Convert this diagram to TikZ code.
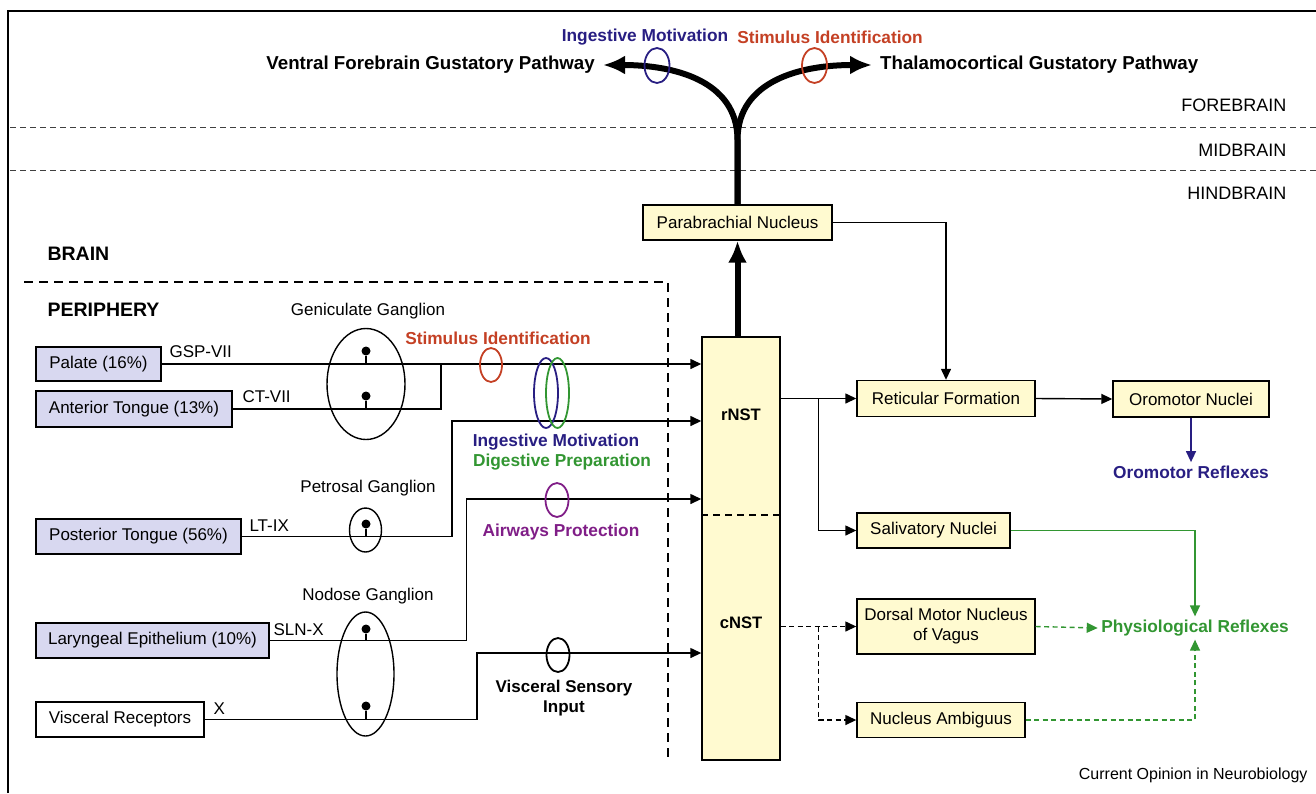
\documentclass[tikz,border=0pt]{standalone}
\usepackage{fontspec}
\setmainfont{Liberation Sans}
\usepackage{tikz}
\usetikzlibrary{arrows.meta,positioning,calc,shapes.geometric}
\definecolor{nucfill}{RGB}{255,250,208}
\definecolor{perifill}{RGB}{216,216,240}
\definecolor{imblue}{RGB}{40,30,130}
\definecolor{sired}{RGB}{196,64,36}
\definecolor{dpgreen}{RGB}{50,150,50}
\definecolor{appurple}{RGB}{128,30,135}

\begin{document}
\begin{tikzpicture}[x=1pt, y=-1pt,
  every node/.style={font=\fontsize{17}{20}\selectfont},
  box/.style={draw, line width=1.4pt, fill=nucfill, inner sep=0pt, minimum height=35pt, align=center},
  peri/.style={box, fill=perifill},
  lbl/.style={font=\bfseries\fontsize{17.3}{20}\selectfont, align=center},
  route/.style={font=\bfseries\fontsize{18.7}{22}\selectfont, inner xsep=8pt},
  region/.style={anchor=east, font=\fontsize{18}{20}\selectfont},
  ln/.style={line width=1.4pt},
  arr/.style={ln, -{Triangle[length=11pt,width=10pt]}},
  darr/.style={arr, dash pattern=on 5pt off 3.5pt},
  fat/.style={line width=6pt, -{Latex[length=22pt,width=19pt]}},
  ring/.style={ellipse, draw, line width=1.8pt, inner sep=0pt, minimum width=23pt, minimum height=34pt},
  gang/.style={ellipse, draw, line width=1.4pt, inner sep=0pt},
  cell/.style={circle, fill, inner sep=0pt, minimum size=9pt}]
\useasboundingbox (0,0) rectangle (1316,793);
\draw[line width=1.3pt] (8,793) -- (8,11) -- (1316,11);

\foreach \y in {127,170}
  \draw[line width=1pt, black!75, dash pattern=on 6pt off 4pt] (10,\y) -- (1316,\y);
\node[region] (fore) at (1290,105) {FOREBRAIN};
\node[region] (mid) at (1290,150) {MIDBRAIN};
\node[region] (hind) at (1290,193) {HINDBRAIN};

\draw[line width=2.2pt, dash pattern=on 9pt off 6pt] (24,282) -| (668,760);
\node[anchor=west, font=\bfseries\fontsize{19.5}{22}\selectfont] (brain) at (44,254) {BRAIN};
\node[anchor=west, font=\bfseries\fontsize{19.5}{22}\selectfont] (periph) at (44,310) {PERIPHERY};

% brainstem nuclei
\node[box, minimum width=189pt] (pb) at (737.5,222.5) {Parabrachial Nucleus};
\node[box, minimum width=78pt, minimum height=423pt] (nst) at (741,548.5) {};
\draw[line width=2pt, dash pattern=on 7pt off 5pt] (nst.west |- 0,515) -- (nst.east |- 0,515);
\node[font=\bfseries\fontsize{16.6}{20}\selectfont] (rnst) at (741,415) {rNST};
\node[font=\bfseries\fontsize{16.6}{20}\selectfont] (cnst) at (741,623) {cNST};
\node[box, minimum width=178pt, minimum height=36pt] (rf) at (946,398.5) {Reticular Formation};
\node[box, minimum width=156pt, minimum height=36pt] (om) at (1191,399) {Oromotor Nuclei};
\node[box, minimum width=153pt] (sal) at (933.5,530.5) {Salivatory Nuclei};
\node[box, minimum width=178pt, minimum height=55pt] (dmv) at (946,626.5) {Dorsal Motor Nucleus\\of Vagus};
\node[box, minimum width=168pt] (amb) at (941,720) {Nucleus Ambiguus};
\node[lbl, text=imblue] (oref) at (1191,472) {Oromotor Reflexes};
\node[lbl, text=dpgreen] (phys) at (1195,628) {Physiological Reflexes};

% receptors
\node[peri, minimum width=125pt, minimum height=34pt] (palate) at (98.5,364) {Palate (16\%)};
\node[peri, minimum width=196pt, minimum height=36pt] (ant) at (134,409) {Anterior Tongue (13\%)};
\node[peri, minimum width=205pt] (post) at (138.5,536.5) {Posterior Tongue (56\%)};
\node[peri, minimum width=233pt] (lar) at (152.5,640.5) {Laryngeal Epithelium (10\%)};
\node[box, fill=white, minimum width=168pt] (visc) at (120,719.5) {Visceral Receptors};

\node[anchor=west] (gsp) at (166,352) {GSP-VII};
\node[anchor=west] (ct) at (239,397) {CT-VII};
\node[anchor=west] (lt) at (246,526) {LT-IX};
\node[anchor=west] (sln) at (270,630) {SLN-X};
\node[anchor=west] (xn) at (210,709) {X};

% ganglia
\node[gang, minimum width=78pt, minimum height=111pt] (gen) at (366,384) {};
\node[gang, minimum width=32pt, minimum height=44pt] (pet) at (365.5,530) {};
\node[gang, minimum width=57pt, minimum height=124pt] (nod) at (365.5,674) {};
\node (genl) at (368,311) {Geniculate Ganglion};
\node (petl) at (368,488) {Petrosal Ganglion};
\node (nodl) at (368,596) {Nodose Ganglion};

% afferents
\coordinate (gspj) at (441,364);
\coordinate (ltj) at (452,421);
\coordinate (slnj) at (466.5,499);
\coordinate (xj) at (477,653);
\draw[arr] (palate.east) -- (palate.east -| nst.west);
\draw[ln] (ant.east) -| (gspj);
\draw[arr] (post.east) -| (ltj) -- (ltj -| nst.west);
\draw[arr] (lar.east) -| (slnj) -- (slnj -| nst.west);
\draw[arr] (visc.east) -| (xj) -- (xj -| nst.west);

\foreach \n/\y/\src in {c1/351/palate, c2/396/ant, c3/524/post, c4/629/lar, c5/706/visc}{
  \node[cell] (\n) at (366,\y) {};
  \draw[ln] (\n) -- (\n |- \src.east);
}

\node[ring, draw=sired, minimum width=22pt] (sir) at (491,365) {};
\node[ring, draw=imblue, minimum width=24pt, minimum height=70pt] (imr) at (546,393) {};
\node[ring, draw=dpgreen, minimum height=70pt] (dpr) at (557.5,393) {};
\node[ring, draw=appurple] (apr) at (557,500) {};
\node[ring] (vsr) at (558,655) {};
\node[lbl, text=sired] (sil) at (498,338) {Stimulus Identification};
\node[lbl, text=imblue] (iml) at (556,442) {Ingestive Motivation};
\node[lbl, text=dpgreen] (dpl) at (562,462) {Digestive Preparation};
\node[lbl, text=appurple] (apl) at (561,532) {Airways Protection};
\node[lbl, font=\bfseries\fontsize{17}{20}\selectfont] (vsl) at (564,698) {Visceral Sensory\\Input};

% ascending
\coordinate (fork) at (737.5,140);
\node[route, anchor=east] (vfg) at (603,65) {Ventral Forebrain Gustatory Pathway};
\node[route, anchor=west] (tcg) at (872,65) {Thalamocortical Gustatory Pathway};
\draw[fat] (pb.south |- nst.north) -- (pb.south);
\draw[fat] (pb.north) -- (fork) .. controls +(0,-60) and +(70,0) .. (vfg.east);
\draw[fat] (pb.north) -- (fork) .. controls +(0,-60) and +(-70,0) .. (tcg.west);
\node[ring, draw=imblue, minimum width=25pt, minimum height=35pt] (imt) at (657,65.5) {};
\node[ring, draw=sired, minimum width=25pt, minimum height=35pt] (sit) at (814.5,65.5) {};
\node[lbl, text=imblue] (imtl) at (645,37) {Ingestive Motivation};
\node[lbl, text=sired] (sitl) at (830,37) {Stimulus Identification};

% efferents
\coordinate (rbr) at ($(nst.east |- rf.west)!0.5!(rf.west)$);
\coordinate (cbr) at ($(nst.east |- dmv.west)!0.5!(dmv.west)$);
\draw[arr] (pb.east) -| (rf.north);
\draw[arr] (nst.east |- rf.west) -- (rf.west);
\draw[arr] (rbr) |- (sal.west);
\draw[arr] (rf.east) -- (om.west);
\draw[arr, imblue] (om.south) -- (oref.north);
\draw[darr] (nst.east |- dmv.west) -- (dmv.west);
\draw[darr] (cbr) |- (amb.west);
\draw[arr, dpgreen] (sal.east) -| (phys.north);
\draw[darr, dpgreen] (dmv.east) -- (phys.west);
\draw[darr, dpgreen] (amb.east) -| (phys.south);

\node[anchor=east, font=\fontsize{16}{18}\selectfont] (src) at (1311,775) {Current Opinion in Neurobiology};
\end{tikzpicture}
\end{document}
